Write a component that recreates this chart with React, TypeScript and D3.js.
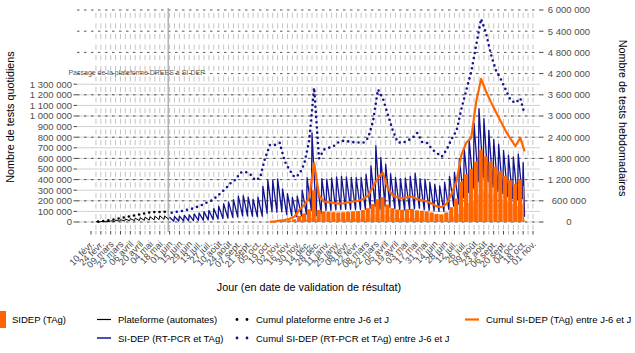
import React from "react";
import * as d3 from "d3";

const FONT = "'Liberation Sans', Arial, Helvetica, sans-serif";
const ORANGE = "#FF6600";
const BLUE = "#14148f";

// ---- axes ----
const X_DOMAIN: [Date, Date] = [new Date(2020, 0, 21), new Date(2021, 10, 11)];
const LEFT_TICKS = [0, 100000, 200000, 300000, 400000, 500000, 600000, 700000, 800000, 900000, 1000000, 1100000, 1200000, 1300000];
const RIGHT_TICKS = [0, 600000, 1200000, 1800000, 2400000, 3000000, 3600000, 4200000, 4800000, 5400000, 6000000];
const X_FIRST_TICK = new Date(2020, 1, 10);
const X_TICK_LABELS = [
  "10 févr.", "24 févr.", "09 mars", "23 mars", "06 avril", "20 avril", "04 mai", "18 mai", "01 juin", "15 juin",
  "29 juin", "13 juil.", "27 juil.", "10 août", "24 août", "07 sept.", "21 sept.", "05 oct.", "19 oct.", "02 nov.",
  "16 nov.", "30 nov.", "14 déc.", "28 déc.", "11 janv.", "25 janv.", "08 févr.", "22 févr.", "08 mars", "22 mars",
  "05 avril", "19 avril", "03 mai", "17 mai", "31 mai", "14 juin", "28 juin", "12 juil.", "26 juil.", "09 août",
  "23 août", "06 sept.", "20 sept.", "04 oct.", "18 oct.", "01 nov."
];
const GRID_START = new Date(2020, 1, 17);
const GRID_END = new Date(2021, 10, 2);
const SWITCH_DATE = new Date(2020, 4, 30);

// ---- data (thousands, weekly: weekday peak / Sunday trough / 7-day cumul) ----
const PLAT_START = new Date(2020, 1, 17);
const platWeekday = [3, 5, 8, 12, 18, 22, 28, 32, 36, 40, 45, 50, 55, 58, 56];
const platSunday = [1, 2, 3, 5, 7, 9, 11, 12, 14, 16, 18, 20, 22, 25, 24];
const platCumul = [15, 27, 44, 66, 95, 120, 150, 175, 200, 230, 260, 285, 275, 290, 290];

const BLUE_START = new Date(2020, 5, 1);
const DATA_END = new Date(2021, 9, 20);
const blueWeekday = [
  45, 52, 56, 62, 67, 76, 85, 98, 110, 127,
  150, 173, 190, 210, 245, 248, 235, 215, 235, 336,
  396, 396, 407, 312, 267, 231, 245, 300, 418, 840,
  380, 410, 405, 415, 425, 430, 425, 420, 420, 420,
  450, 530, 720, 610, 545, 455, 420, 410, 415, 430,
  460, 410, 405, 375, 355, 340, 375, 430, 470, 600,
  690, 780, 930, 1070, 975, 865, 780, 735, 675, 630,
  615, 640, 560
];
const blueSunday = [
  8, 10, 11, 12, 13, 15, 17, 20, 24, 28,
  33, 38, 44, 48, 58, 58, 55, 50, 55, 80,
  95, 92, 95, 70, 60, 52, 58, 75, 110, 60,
  80, 110, 110, 115, 118, 120, 118, 116, 118, 120,
  130, 150, 120, 150, 140, 125, 118, 115, 120, 125,
  130, 115, 110, 105, 100, 100, 120, 150, 170, 230,
  280, 320, 380, 420, 380, 330, 290, 270, 240, 220,
  210, 220, 50
];
const blueCumul = [
  260, 290, 310, 340, 370, 420, 470, 540, 600, 700,
  820, 950, 1100, 1200, 1400, 1420, 1350, 1180, 1250, 1800,
  2180, 2180, 2240, 1720, 1470, 1270, 1350, 1650, 2300, 3800,
  1800, 2050, 2100, 2150, 2260, 2300, 2280, 2260, 2250, 2240,
  2380, 2850, 3750, 3500, 3050, 2600, 2260, 2240, 2300, 2380,
  2520, 2260, 2240, 2060, 1950, 1850, 2050, 2350, 2580, 3200,
  3740, 4250, 5000, 5750, 5350, 4750, 4300, 4050, 3750, 3450,
  3370, 3500, 3050
];

const TAG_START = new Date(2020, 9, 19);
const tagWeekday = [
  1, 3, 7, 10, 16, 26, 58, 82, 120, 300,
  115, 100, 96, 93, 90, 92, 96, 100, 103, 112,
  130, 170, 215, 235, 165, 130, 118, 116, 120, 124,
  110, 106, 100, 90, 76, 72, 90, 140, 220, 380,
  450, 500, 570, 680, 620, 570, 520, 480, 435, 395,
  360, 400, 340
];
const tagSunday = [
  0, 1, 2, 3, 5, 8, 18, 25, 40, 30,
  30, 30, 28, 28, 27, 28, 29, 30, 31, 34,
  40, 50, 45, 60, 50, 40, 36, 35, 36, 37,
  33, 32, 30, 28, 24, 22, 30, 50, 80, 140,
  180, 200, 250, 300, 270, 250, 230, 210, 190, 170,
  150, 170, 20
];
const tagCumul = [
  5, 20, 40, 55, 90, 150, 340, 480, 700, 1670,
  750, 580, 560, 540, 520, 530, 560, 580, 600, 650,
  750, 1000, 1250, 1390, 950, 760, 690, 680, 700, 720,
  640, 620, 580, 520, 440, 420, 520, 800, 1150, 1900,
  2250, 2380, 3400, 4050, 3700, 3400, 3120, 2850, 2580, 2350,
  2150, 2380, 2000
];

const LEGEND_ROW1 = ["SIDEP (TAg)", "Plateforme (automates)", "Cumul plateforme entre J-6 et J", "Cumul SI-DEP (TAg) entre J-6 et J"];
const LEGEND_ROW2 = ["SI-DEP (RT-PCR et TAg)", "Cumul SI-DEP (RT-PCR et TAg) entre J-6 et J"];

const K = 1000;
const fmt = (v: number) => d3.format(",")(v).replace(/,/g, " ");

type Pt = [Date, number];

// weekly peak on Monday, trough on Sunday
function sawtooth(start: Date, hi: number[], lo: number[], end?: Date): Pt[] {
  const pts: Pt[] = [];
  hi.forEach((h, k) => {
    const mon = d3.timeDay.offset(start, 7 * k);
    const sun = d3.timeDay.offset(start, 7 * k + 6);
    pts.push([mon, h * K]);
    pts.push([end && sun > end ? end : sun, lo[k] * K]);
  });
  return pts;
}

function cumulPts(start: Date, vals: number[], end?: Date): Pt[] {
  return vals.map((v, k) => {
    let d = d3.timeDay.offset(start, 7 * k + 3);
    if (end && d > end) d = end;
    return [d, v * K] as Pt;
  });
}

export default function App() {
  const panel = { l: 77, r: 540, t: 8, b: 232 };
  const x = d3.scaleTime().domain(X_DOMAIN).range([panel.l, panel.r]);
  const yL = d3.scaleLinear().domain([0, 1300000]).range([222, 84.2]);
  const yR = d3.scaleLinear().domain([0, 3900000]).range([222, 84.2]);
  const dayPx = x(new Date(2020, 5, 2)) - x(new Date(2020, 5, 1));

  const lineL = d3.line<Pt>().x(d => x(d[0])).y(d => yL(d[1]));
  const lineR = d3.line<Pt>().x(d => x(d[0])).y(d => yR(d[1]));

  const bluePts = sawtooth(BLUE_START, blueWeekday, blueSunday, DATA_END);
  const platPts = sawtooth(PLAT_START, platWeekday, platSunday);
  const blueCum = cumulPts(BLUE_START, blueCumul, DATA_END);
  const tagCum = cumulPts(TAG_START, tagCumul, DATA_END);
  const platCum = cumulPts(PLAT_START, platCumul);

  // TAg bars: Monday-Saturday block at weekday level, Sunday bar at trough level
  const bars: { x0: number; x1: number; v: number }[] = [];
  tagWeekday.forEach((h, k) => {
    const mon = d3.timeDay.offset(TAG_START, 7 * k);
    const sat = d3.timeDay.offset(TAG_START, 7 * k + 5);
    const sun = d3.timeDay.offset(TAG_START, 7 * k + 6);
    if (sun > DATA_END) {
      const last = d3.timeDay.offset(DATA_END, -1);
      bars.push({ x0: x(mon) - 0.45 * dayPx, x1: x(last) + 0.45 * dayPx, v: h * K });
      bars.push({ x0: x(DATA_END) - 0.45 * dayPx, x1: x(DATA_END) + 0.45 * dayPx, v: tagSunday[k] * K });
    } else {
      bars.push({ x0: x(mon) - 0.45 * dayPx, x1: x(sat) + 0.45 * dayPx, v: h * K });
      bars.push({ x0: x(sun) - 0.45 * dayPx, x1: x(sun) + 0.45 * dayPx, v: tagSunday[k] * K });
    }
  });

  const gridDates = d3.timeMonday.range(GRID_START, d3.timeDay.offset(GRID_END, 1));
  const tickDates = d3.timeMonday.range(X_FIRST_TICK, d3.timeDay.offset(GRID_END, 1));
  const labelDates = X_TICK_LABELS.map((_, i) => d3.timeDay.offset(X_FIRST_TICK, 14 * i));

  const period = yL(0) - yL(100000);
  const dash = 5;
  const dashOffset = -(((panel.b - (yL(0) - period / 2)) - dash / 2) % period);

  const dotted = { strokeDasharray: "0 5.2", strokeLinecap: "round" as const, strokeWidth: 2.6, fill: "none" };

  return (
    <svg width={635} height={353} style={{ position: "absolute", left: 0, top: 0, background: "#fff" }} fontFamily={FONT}>
      {/* vertical weekly gridlines */}
      {gridDates.map((d, i) => (
        <line key={"vg" + i} x1={x(d)} x2={x(d)} y1={panel.b} y2={panel.t} stroke="#bdbdbd" strokeWidth={0.9}
          strokeDasharray={`${dash} ${period - dash}`} strokeDashoffset={dashOffset} />
      ))}
      {/* left gridlines */}
      {LEFT_TICKS.map(v => (
        <line key={"lg" + v} x1={panel.l} x2={panel.r} y1={yL(v)} y2={yL(v)} stroke="#d0d0d0" strokeWidth={1} />
      ))}
      {/* right gridlines */}
      {RIGHT_TICKS.map(v => (
        <line key={"rg" + v} x1={panel.l} x2={panel.r} y1={yR(v)} y2={yR(v)} stroke="#444" strokeWidth={0.9} strokeDasharray="2.5 4.5" />
      ))}
      {/* switch line */}
      <line x1={x(SWITCH_DATE)} x2={x(SWITCH_DATE)} y1={panel.t} y2={panel.b} stroke="#a8a8a8" strokeWidth={1.3} />
      <text x={205} y={75} fontSize={7} fill="#555" textAnchor="end">Passage de la plateforme DREES à SI-DEP</text>

      {/* data */}
      <path d={lineL(bluePts) || ""} fill="none" stroke={BLUE} strokeWidth={1.3} strokeLinejoin="round" />
      {bars.map((b, i) => (
        <rect key={"b" + i} x={b.x0} width={Math.max(0, b.x1 - b.x0)} y={yL(b.v)} height={yL(0) - yL(b.v)} fill={ORANGE} />
      ))}
      <path d={lineL(platPts) || ""} fill="none" stroke="#000" strokeWidth={1} strokeLinejoin="round" />
      <path d={lineR(tagCum) || ""} fill="none" stroke={ORANGE} strokeWidth={2.2} strokeLinejoin="round" />
      <path d={lineR(platCum) || ""} stroke="#000" {...dotted} />
      <path d={lineR(blueCum) || ""} stroke={BLUE} {...dotted} />

      {/* left axis */}
      {LEFT_TICKS.map(v => (
        <g key={"lt" + v}>
          <line x1={73.5} x2={77} y1={yL(v)} y2={yL(v)} stroke="#333" strokeWidth={0.9} />
          <text x={72} y={yL(v) + 3.4} fontSize={9.5} fill="#4d4d4d" textAnchor="end">{fmt(v)}</text>
        </g>
      ))}
      {/* right axis */}
      {RIGHT_TICKS.map(v => (
        <g key={"rt" + v}>
          <line x1={540} x2={543.5} y1={yR(v)} y2={yR(v)} stroke="#333" strokeWidth={0.9} />
          <text x={569} y={yR(v) + 3.4} fontSize={9.5} fill="#4d4d4d" textAnchor="middle">{fmt(v)}</text>
        </g>
      ))}
      {/* x axis ticks */}
      {tickDates.map((d, i) => (
        <line key={"xt" + i} x1={x(d)} x2={x(d)} y1={231} y2={234.5} stroke={i % 2 === 0 ? "#333" : "#aaa"} strokeWidth={0.9} />
      ))}
      {X_TICK_LABELS.map((lab, i) => (
        <text key={"xl" + i} fontSize={9.3} fill="#4d4d4d" textAnchor="end"
          transform={`translate(${x(labelDates[i]) - 1},${240}) rotate(-45)`} dy="0.71em">{lab}</text>
      ))}

      {/* titles */}
      <text x={309} y={291} fontSize={10.8} fill="#000" textAnchor="middle">Jour (en date de validation de résultat)</text>
      <text transform="translate(14,117) rotate(-90)" fontSize={10.8} fill="#000" textAnchor="middle">Nombre de tests quotidiens</text>
      <text transform="translate(619,118) rotate(90)" fontSize={10.8} fill="#000" textAnchor="middle">Nombre de tests hebdomadaires</text>

      {/* legend */}
      <g fontSize={9.5} fill="#000">
        <rect x={-11} y={311} width={17} height={17} fill={ORANGE} />
        <text x={12} y={323}>{LEGEND_ROW1[0]}</text>
        <line x1={97} x2={111} y1={319.5} y2={319.5} stroke="#000" strokeWidth={1.2} />
        <text x={118} y={323}>{LEGEND_ROW1[1]}</text>
        <circle cx={237} cy={319.5} r={1.4} fill="#000" />
        <circle cx={247} cy={319.5} r={1.4} fill="#000" />
        <text x={256} y={323}>{LEGEND_ROW1[2]}</text>
        <line x1={465} x2={479} y1={319.5} y2={319.5} stroke={ORANGE} strokeWidth={2.2} />
        <text x={486} y={323}>{LEGEND_ROW1[3]}</text>
        <line x1={97} x2={111} y1={338} y2={338} stroke={BLUE} strokeWidth={1.5} />
        <text x={118} y={341.5}>{LEGEND_ROW2[0]}</text>
        <circle cx={237} cy={338} r={1.4} fill={BLUE} />
        <circle cx={247} cy={338} r={1.4} fill={BLUE} />
        <text x={256} y={341.5}>{LEGEND_ROW2[1]}</text>
      </g>
    </svg>
  );
}
